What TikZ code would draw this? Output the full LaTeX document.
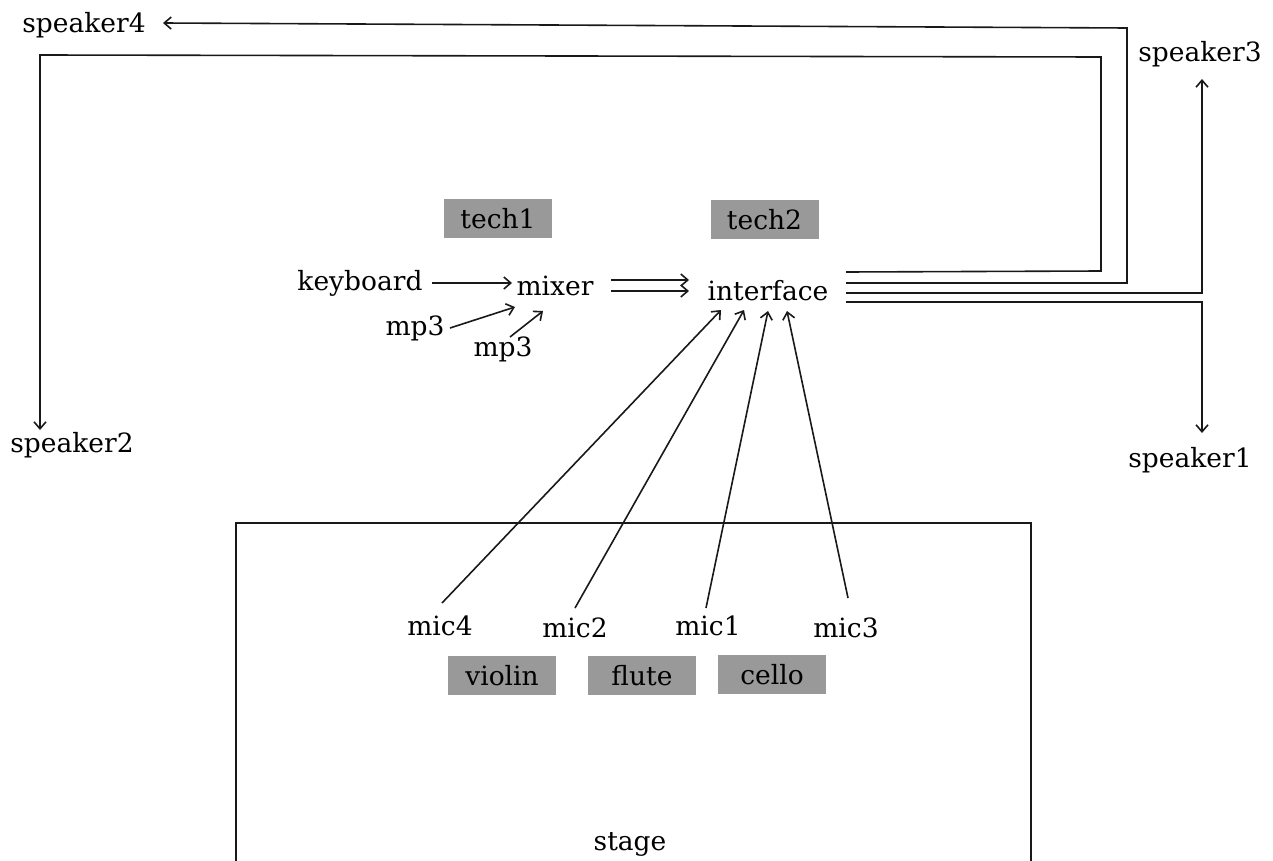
\documentclass[tikz,border=0pt]{standalone}
\usepackage{fontspec}
\setmainfont{DejaVu Serif}
\usetikzlibrary{arrows.meta}
\begin{document}
\begin{tikzpicture}[x=1pt,y=-1pt,
  lbl/.style={anchor=base,inner sep=0pt,font=\fontsize{26.5}{32}\selectfont},
  graybox/.style={fill=boxgray,minimum width=108pt,minimum height=39pt,inner sep=0pt,font=\fontsize{26.5}{32}\selectfont},
  wire/.style={line width=1.6pt,draw=black!90},
  arr/.style={wire,-{Straight Barb[length=7pt,width=12pt]}}]
\definecolor{boxgray}{HTML}{999999}
\useasboundingbox (0,0) rectangle (1273,861);
% labels
\node[lbl] (speaker4) at (84,33) {speaker4};
\node[lbl] (speaker3) at (1200,62) {speaker3};
\node[lbl] (speaker2) at (72,452) {speaker2};
\node[lbl] (speaker1) at (1190,467) {speaker1};
\node[lbl] (keyboard) at (360,290) {keyboard};
\node[lbl] (mixer) at (555,295) {mixer};
\node[lbl] (interface) at (768,300) {interface};
\node[lbl] (mp3a) at (415,335) {mp3};
\node[lbl] (mp3b) at (503,356) {mp3};
\node[lbl] (mic4) at (440,635) {mic4};
\node[lbl] (mic2) at (575,637) {mic2};
\node[lbl] (mic1) at (708,635) {mic1};
\node[lbl] (mic3) at (846,637) {mic3};
\node[lbl] (stagelbl) at (630,850) {stage};
% gray boxes
\node[graybox] (tech1) at (498,218.5) {tech1};
\node[graybox] (tech2) at (764.5,219.5) {tech2};
\node[graybox] (violin) at (502,675.5) {violin};
\node[graybox] (flute) at (642,675.5) {flute};
\node[graybox] (cello) at (772,674.5) {cello};
% stage outline
\draw[wire,line width=1.7pt] (236,861) -- (236,523) -- (1031,523) -- (1031,861);
% inputs to mixer
\draw[arr] ([xshift=72pt,yshift=7pt]keyboard.base) -- ([xshift=-43pt,yshift=12pt]mixer.base);
\draw[arr] ([xshift=35pt,yshift=7pt]mp3a.base) -- ([xshift=-40pt,yshift=-12pt]mixer.base);
\draw[arr] ([xshift=7pt,yshift=19pt]mp3b.base) -- ([xshift=-12pt,yshift=-16pt]mixer.base);
% mixer to interface (double)
\draw[arr] ([xshift=56pt,yshift=15pt]mixer.base) -- ([xshift=-79pt,yshift=20pt]interface.base);
\draw[arr] ([xshift=56pt,yshift=4pt]mixer.base) -- ([xshift=-79pt,yshift=9pt]interface.base);
% mics to interface
\draw[arr] ([xshift=2pt,yshift=32pt]mic4.base) -- ([xshift=-47pt,yshift=-10pt]interface.base);
\draw[arr] ([xshift=0pt,yshift=29pt]mic2.base) -- ([xshift=-24pt,yshift=-10pt]interface.base);
\draw[arr] ([xshift=-2pt,yshift=27pt]mic1.base) -- ([xshift=0pt,yshift=-11pt]interface.base);
\draw[arr] ([xshift=2pt,yshift=39pt]mic3.base) -- ([xshift=19pt,yshift=-11pt]interface.base);
% corner coordinates
\coordinate (c1a) at (1101,271);
\coordinate (c1b) at (1101,57);
\coordinate (c1c) at (40,55);
\coordinate (c2a) at (1127,283);
\coordinate (c2b) at (1127,28);
\coordinate (c3a) at (1202,293);
\coordinate (c4a) at (1202,302);
% interface to speakers
\draw[arr] ([xshift=78pt,yshift=28pt]interface.base) -- (c1a) -- (c1b) -- (c1c) -- ([xshift=-32pt,yshift=22pt]speaker2.base);
\draw[arr] ([xshift=78pt,yshift=17pt]interface.base) -- (c2a) -- (c2b) -- ([xshift=79pt,yshift=10pt]speaker4.base);
\draw[arr] ([xshift=78pt,yshift=7pt]interface.base) -- (c3a) -- ([xshift=2pt,yshift=-17pt]speaker3.base);
\draw[arr] ([xshift=78pt,yshift=-2pt]interface.base) -- (c4a) -- ([xshift=12pt,yshift=34pt]speaker1.base);
\end{tikzpicture}
\end{document}
